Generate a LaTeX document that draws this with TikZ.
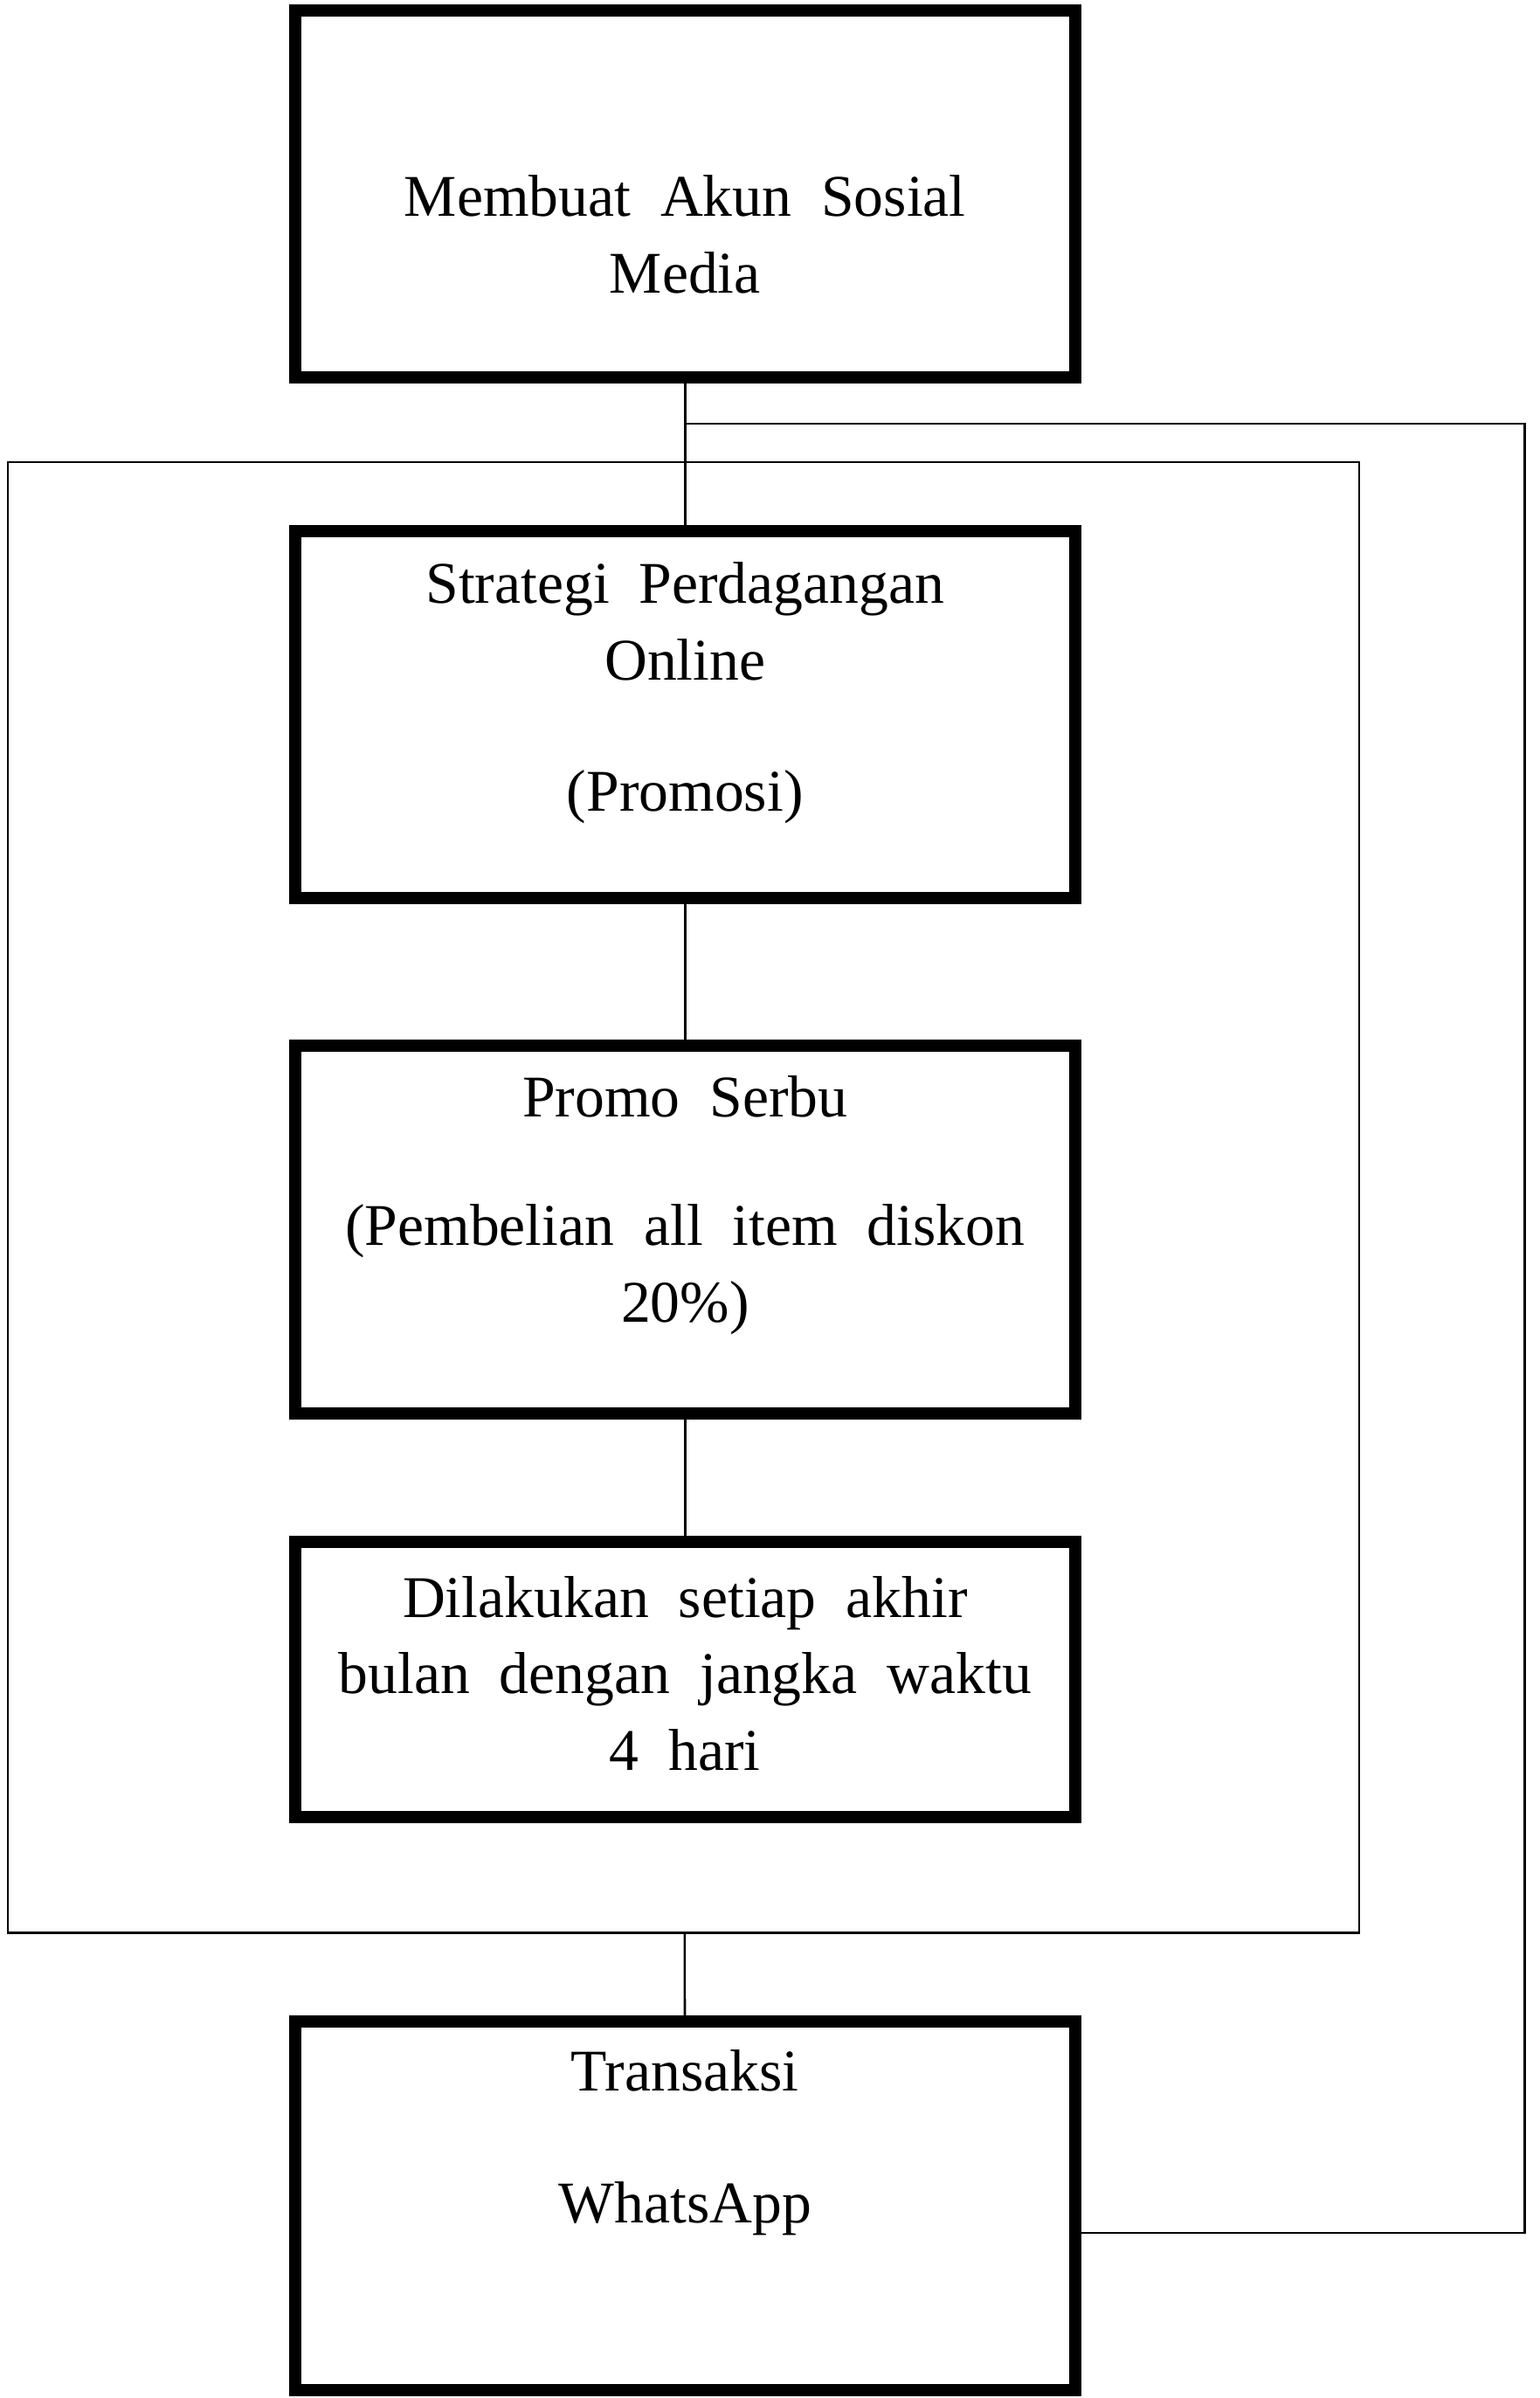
\documentclass[tikz,border=0pt]{standalone}
\usepackage{fontspec}
\setmainfont{Liberation Serif}
\usetikzlibrary{positioning}

\begin{document}
\begin{tikzpicture}[x=0.02cm,y=-0.02cm,
  main box/.style={rectangle, draw, line width=0.16cm, minimum width=10.2cm, inner sep=0pt},
  box text/.style={anchor=north, align=center, inner sep=0pt, font={\fontsize{22}{28.5}\selectfont\spaceskip=0.5em\relax}},
  thin line/.style={line width=0.03cm}]
			\useasboundingbox (0,0) rectangle (1007,1568);
			% Nodes
			\node[main box, minimum height=4.8cm] (akun) at (448,127) {};
			\node[main box, minimum height=4.8cm] (strategi) at (448,467) {};
			\node[main box, minimum height=4.8cm] (promo) at (448,804) {};
			\node[main box, minimum height=3.6cm] (jadwal) at (448,1098) {};
			\node[main box, minimum height=4.82cm] (transaksi) at (448,1442.5) {};
			\node[rectangle, draw, thin line, minimum width=17.68cm, minimum height=19.24cm, inner sep=0pt] (bingkai) at (447,783) {};
			
			% Texts
			\node[box text] (akun t) at (448,106) {\strut Membuat Akun Sosial\\Media};
			\node[box text] (strategi t) at (448,359) {\strut Strategi Perdagangan\\Online\\[0.72cm](Promosi)};
			\node[box text] (promo t) at (448,695) {\strut Promo Serbu\\[0.68cm](Pembelian all item diskon\\20\%)};
			\node[box text] (jadwal t) at (448,1022) {\strut Dilakukan setiap akhir\\bulan dengan jangka waktu\\4 hari};
			\node[box text] (transaksi t) at (448,1332) {\strut Transaksi\\[0.72cm]WhatsApp};
			
			\coordinate (cabang) at (448,277);
			\coordinate (kanan) at (997,1460);
			
			\path[thin line]
			(akun) edge (strategi)
			(strategi) edge (promo)
			(promo) edge (jadwal)
			(bingkai) edge (transaksi);
			
			\draw[thin line] (cabang) -| (kanan) -- (kanan -| transaksi.east);
			
		\end{tikzpicture}
\end{document}
